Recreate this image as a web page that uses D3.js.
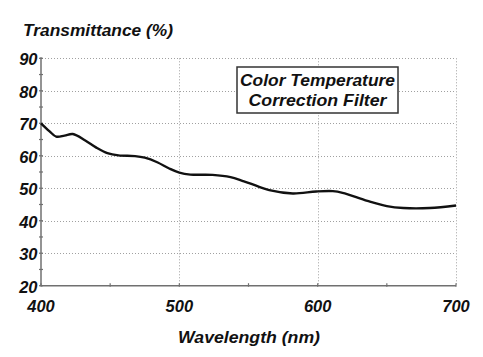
<!DOCTYPE html>
<html><head><meta charset="utf-8">
<script src="https://cdn.jsdelivr.net/npm/d3@7/dist/d3.min.js"></script>
<style>
body{margin:0;background:#fff;}
text{font-family:"Liberation Sans",Arial,sans-serif;font-weight:bold;font-style:italic;fill:#111;}
</style></head><body>
<svg id="c" width="483" height="357"></svg>
<script>
const wavelength = [400,406,411,417,423,432,440,448,456,468,475,484,493,500,508,524,537,546,551,565,582,599,611,618,636,650,662,681,700];
const transmittance = [70.0,67.6,65.9,66.2,66.7,64.7,62.5,60.8,60.1,59.9,59.4,58.0,56.0,54.8,54.2,54.1,53.4,52.2,51.5,49.4,48.4,49.0,49.1,48.6,46.1,44.5,43.9,43.9,44.7];
const xTicks = [400,500,600,700];
const xMinor = [450,550,650];
const yTicks = [20,30,40,50,60,70,80,90];
const yMinor = [25,35,45,55,65,75,85];
const titleY = "Transmittance (%)";
const titleX = "Wavelength (nm)";
const legendLines = ["Color Temperature","Correction Filter"];

const svg = d3.select("#c");
const x = d3.scaleLinear().domain([400,700]).range([41,456]);
const y = d3.scaleLinear().domain([20,90]).range([285.7,58.3]);

// grid
const grid = svg.append("g").attr("stroke","#a0a0a0").attr("stroke-width",1).attr("stroke-dasharray","1,2");
grid.selectAll(".gh").data(yTicks.filter(d=>d>20)).enter().append("line")
  .attr("x1",x(400)+1).attr("x2",x(700)).attr("y1",d=>Math.round(y(d))+0.5).attr("y2",d=>Math.round(y(d))+0.5);
grid.selectAll(".gv").data(xTicks.filter(d=>d>400)).enter().append("line")
  .attr("y1",y(90)).attr("y2",y(20)-1).attr("x1",d=>Math.round(x(d))+0.5).attr("x2",d=>Math.round(x(d))+0.5);

// axes
const ax = svg.append("g").attr("stroke","#707070").attr("stroke-width",1.5);
ax.append("line").attr("x1",x(400)).attr("x2",x(400)).attr("y1",y(90)-1).attr("y2",y(20));
ax.append("line").attr("x1",x(400)).attr("x2",x(700)).attr("y1",y(20)).attr("y2",y(20));
ax.selectAll(".ty").data(yTicks.concat(yMinor)).enter().append("line")
  .attr("x1",x(400)-2).attr("x2",x(400)+2).attr("y1",d=>y(d)).attr("y2",d=>y(d)).attr("stroke-width",1.2);
ax.selectAll(".tx").data(xTicks.concat(xMinor)).enter().append("line")
  .attr("y1",y(20)-2.5).attr("y2",y(20)+1).attr("x1",d=>x(d)).attr("x2",d=>x(d)).attr("stroke-width",1.2);

// labels
svg.selectAll(".ly").data(yTicks).enter().append("text")
  .attr("x",37.5).attr("y",d=>y(d)+7).attr("text-anchor","end").attr("font-size",16.5).text(d=>d);
svg.selectAll(".lx").data(xTicks).enter().append("text")
  .attr("x",d=>x(d)).attr("y",311.5).attr("text-anchor","middle").attr("font-size",16.5).text(d=>d);
svg.append("text").attr("x",23).attr("y",35.5).attr("font-size",16.5)
  .attr("textLength",150).attr("lengthAdjust","spacingAndGlyphs").text(titleY);
svg.append("text").attr("x",249).attr("y",342.5).attr("text-anchor","middle").attr("font-size",16.5)
  .attr("textLength",142).attr("lengthAdjust","spacingAndGlyphs").text(titleX);

// curve
const line = d3.line().x((d,i)=>x(wavelength[i])).y(d=>y(d)).curve(d3.curveCatmullRom);
svg.append("path").datum(transmittance).attr("d",line).attr("fill","none").attr("stroke","#111").attr("stroke-width",2.4);

// legend box
const bx = 237, bw = 161, by = 67, bh = 46;
const legendW = [155,138];
svg.append("rect").attr("x",bx).attr("y",by).attr("width",bw).attr("height",bh)
  .attr("fill","#fff").attr("stroke","#333").attr("stroke-width",1.5);
svg.selectAll(".lg").data(legendLines).enter().append("text")
  .attr("x",bx+bw/2).attr("y",(d,i)=>86+i*20).attr("text-anchor","middle").attr("font-size",16.5)
  .attr("textLength",(d,i)=>legendW[i]).attr("lengthAdjust","spacingAndGlyphs").text(d=>d);
</script></body></html>
